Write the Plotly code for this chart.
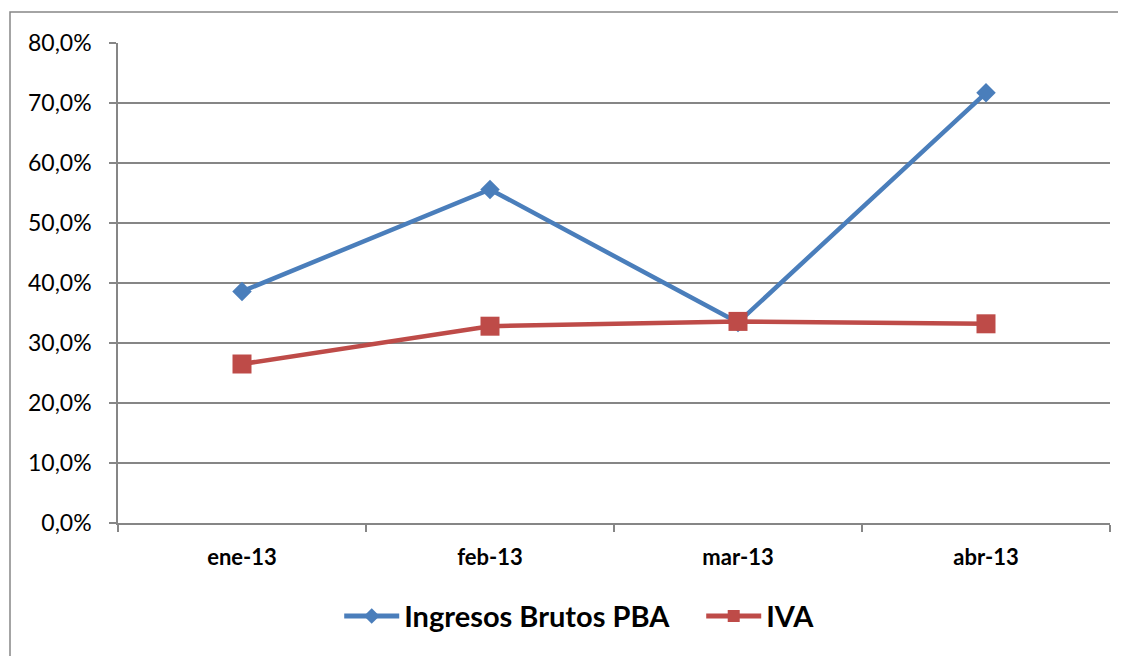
import plotly.graph_objects as go

categories = ["ene-13", "feb-13", "mar-13", "abr-13"]
ingresos_brutos = [0.386, 0.556, 0.334, 0.717]
iva = [0.265, 0.328, 0.336, 0.332]
y_ticks = [0, 0.1, 0.2, 0.3, 0.4, 0.5, 0.6, 0.7, 0.8]

BLUE = "#4A7EBB"
RED = "#BE4B48"
GRID = "#868686"
FONT = "Lato"

fig = go.Figure()
fig.add_trace(go.Scatter(
    x=categories, y=ingresos_brutos, name="Ingresos Brutos PBA",
    mode="lines+markers",
    line=dict(color=BLUE, width=4.5),
    marker=dict(symbol="diamond", size=15, color=BLUE),
))
fig.add_trace(go.Scatter(
    x=categories, y=iva, name="IVA",
    mode="lines+markers",
    line=dict(color=RED, width=4.5),
    marker=dict(symbol="square", size=19, color=RED),
))

# page body has an 8px margin, so the figure is sized to fit the window
W, H = 1118, 648
L, R, T, B = 110, 16, 35, 133
plot_w = W - L - R
plot_h = H - T - B

fig.update_layout(
    width=W, height=H,
    margin=dict(l=L, r=R, t=T, b=B),
    paper_bgcolor="white", plot_bgcolor="white",
    separators=",.",
    showlegend=True,
    legend=dict(
        orientation="h", x=0.223, xanchor="left", y=-0.194, yanchor="middle",
        font=dict(family=FONT, size=29, color="black", weight="bold"),
        itemwidth=55, itemsizing="constant",
        entrywidth=292, entrywidthmode="pixels",
    ),
    font=dict(family=FONT, color="black"),
)
fig.update_xaxes(
    type="category", range=[-0.5, 3.5],
    showline=True, linecolor=GRID, linewidth=1.5,
    ticks="outside", tickson="boundaries", ticklen=7, tickcolor=GRID, tickwidth=1.5,
    showgrid=False,
    tickfont=dict(family=FONT, size=22, color="black", weight="bold"),
    ticklabelstandoff=14,
)
fig.update_yaxes(
    range=[0, 0.8], tickvals=y_ticks, tickformat=".1%",
    showline=True, linecolor=GRID, linewidth=1.5,
    ticks="outside", ticklen=7, tickcolor=GRID, tickwidth=1.5,
    showgrid=True, gridcolor=GRID, gridwidth=1.5,
    zeroline=False,
    tickfont=dict(family=FONT, size=23, color="black"),
    ticklabelstandoff=13,
)
fig.add_shape(
    type="rect", xref="paper", yref="paper",
    x0=(2 - L) / plot_w, x1=1.2, y0=-0.5, y1=(T + plot_h - 4) / plot_h,
    line=dict(color=GRID, width=1.5), fillcolor="rgba(0,0,0,0)", layer="below",
)

fig.write_html("out.html")
